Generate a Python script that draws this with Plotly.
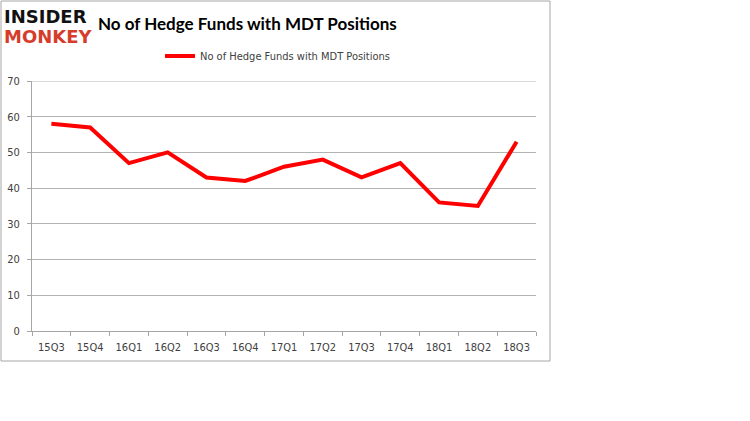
import plotly.graph_objects as go

quarters = ["15Q3", "15Q4", "16Q1", "16Q2", "16Q3", "16Q4", "17Q1",
            "17Q2", "17Q3", "17Q4", "18Q1", "18Q2", "18Q3"]
hedge_funds = [58, 57, 47, 50, 43, 42, 46, 48, 43, 47, 36, 35, 53]
series_name = "No of Hedge Funds with MDT Positions"
chart_title = "No of Hedge Funds with MDT Positions"
y_ticks = [0, 10, 20, 30, 40, 50, 60, 70]

W, H = 750, 421
PL, PR, PT, PB = 32, 536, 81, 331  # plot area in page pixels
L, T = PL, PT
R, B = W - PR, H - PB
pw, ph = PR - PL, PB - PT

def px_x(x):
    return (x - PL) / pw

def px_y(y):
    return (PB - y) / ph

TICK_FONT = "DejaVu Sans Condensed, DejaVu Sans"
GRID = "#b3b3b3"

fig = go.Figure()
fig.add_trace(go.Scatter(
    x=quarters, y=hedge_funds, mode="lines", name=series_name,
    line=dict(color="#ff0000", width=4),
))

fig.update_layout(
    width=W, height=H,
    margin=dict(l=L, r=R, t=T, b=B, autoexpand=False),
    paper_bgcolor="white", plot_bgcolor="white",
    showlegend=True,
    legend=dict(
        orientation="h", x=px_x(160), y=px_y(56), xanchor="left", yanchor="middle",
        font=dict(family=TICK_FONT, size=11, color="#404040"),
        bgcolor="rgba(0,0,0,0)",
    ),
    xaxis=dict(
        type="category", showgrid=False, showline=True, linecolor="#a6a6a6", linewidth=1,
        ticks="outside", tickson="boundaries", ticklen=4, tickcolor="#a6a6a6",
        tickfont=dict(family=TICK_FONT, size=11, color="#404040"),
        ticklabelstandoff=6, automargin=False,
        range=[-0.5, len(quarters) - 0.5], fixedrange=True,
    ),
    yaxis=dict(
        range=[y_ticks[0], y_ticks[-1]], tickvals=y_ticks, showgrid=True, gridcolor=GRID, gridwidth=1,
        showline=True, linecolor="#a6a6a6", linewidth=1, zeroline=False,
        ticks="outside", ticklen=4, tickcolor="#a6a6a6",
        tickfont=dict(family=TICK_FONT, size=11, color="#404040"),
        ticklabelstandoff=5, automargin=False,
        fixedrange=True,
    ),
    shapes=[
        dict(type="rect", xref="paper", yref="paper",
             x0=px_x(1), x1=px_x(550), y0=px_y(361), y1=px_y(1),
             line=dict(color="#a6a6a6", width=1), fillcolor="rgba(0,0,0,0)", layer="below"),
        # top gridline (plotly omits the grid line on the range edge)
        dict(type="line", xref="paper", yref="y", x0=0, x1=1,
             y0=y_ticks[-1], y1=y_ticks[-1], line=dict(color=GRID, width=1), layer="below"),
    ],
    annotations=[
        dict(text="<b>" + chart_title + "</b>", xref="paper", yref="paper",
             x=px_x(96), y=px_y(23), xanchor="left", yanchor="middle", showarrow=False,
             font=dict(family="Lato", size=17, color="black")),
        dict(text="<b>INSIDER</b>", xref="paper", yref="paper",
             x=px_x(2), y=px_y(16), xanchor="left", yanchor="middle", showarrow=False,
             font=dict(family="DejaVu Sans", size=18, color="#111111")),
        dict(text="<b>MONKEY</b>", xref="paper", yref="paper",
             x=px_x(2), y=px_y(36), xanchor="left", yanchor="middle", showarrow=False,
             font=dict(family="DejaVu Sans", size=18, color="#d63c2a")),
    ],
)

fig.write_html(
    "out.html",
    config={"displayModeBar": False},
    post_script="document.body.style.margin='0';document.body.style.overflow='hidden';",
)
